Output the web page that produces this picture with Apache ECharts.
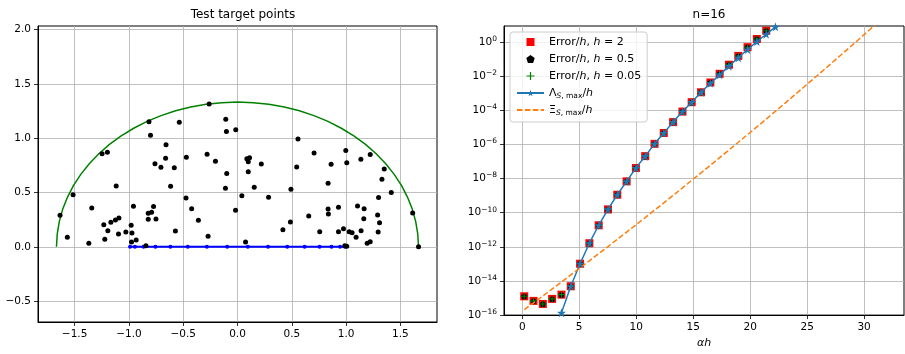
<!DOCTYPE html>
<html>
<head>
<meta charset="utf-8">
<script src="https://cdn.jsdelivr.net/npm/echarts@6/dist/echarts.min.js"></script>
<style>
  html, body { margin: 0; padding: 0; background: #fff; }
  #chart { width: 905px; height: 354px; }
</style>
</head>
<body>
<div id="chart"></div>
<script>
// ---- left panel: test target points ----
var targetX = [-1.247, -1.198, -1.117, -1.514, -1.634, -1.342, -0.958, -1.231, -1.166, -1.124, -1.092,
  -1.194, -0.979, -1.028, -1.096, -0.972, -1.567, -1.222, -0.933, -0.976, -1.369, -0.843,
  -0.815, -0.536, -0.261, -0.108, -0.102, -0.016, -0.801, -0.658, -0.760, -0.705, -0.662,
  -0.582, -0.471, -0.280, -0.203, -0.099, -0.616, -0.111, 0.040, -0.474, -0.422, -0.773,
  -0.791, -0.822, -0.822, -0.751, -0.360, -0.018, -0.572, -0.271, 0.074,
  0.557, 0.086, 0.111, 0.099, 0.219, 0.099, 0.705, 0.545, 0.862, 0.154, 0.492, 0.834,
  0.286, 0.656, 0.834, 0.837, 0.930, 0.487, 0.418, 0.757, 0.930,
  0.997, 1.006, 1.136, 1.222, 1.351, 1.330, 1.416, 1.299, 1.105, 1.166, 1.163, 1.290,
  1.308, 1.613, 0.976, 1.028, 1.055, 1.138, 1.092, 1.295, 1.194, 1.222, 0.988, 1.006, 1.667];
var targetY = [0.858, 0.871, 0.560, 0.480, 0.290, 0.358, 0.373, 0.204, 0.226, 0.247, 0.265,
  0.148, 0.198, 0.136, 0.118, 0.127, 0.088, 0.069, 0.063, 0.044, 0.032, 0.010,
  1.153, 1.147, 1.316, 1.175, 1.061, 1.079, 1.028, 0.941, 0.766, 0.733, 0.816,
  0.729, 0.825, 0.853, 0.788, 0.674, 0.558, 0.539, 0.471, 0.450, 0.351, 0.370,
  0.318, 0.309, 0.253, 0.256, 0.244, 0.336, 0.146, 0.097, 0.044,
  0.994, 0.812, 0.821, 0.784, 0.763, 0.692, 0.865, 0.735, 0.760, 0.548, 0.530, 0.585,
  0.456, 0.284, 0.348, 0.302, 0.364, 0.229, 0.158, 0.139, 0.139,
  0.886, 0.775, 0.806, 0.849, 0.717, 0.622, 0.499, 0.453, 0.376, 0.351, 0.259, 0.293,
  0.222, 0.312, 0.167, 0.139, 0.130, 0.148, 0.088, 0.136, 0.032, 0.047, 0.010, 0.005, 0.000];

// upper half of the green ellipse
var ellipseX = [1.667, 1.660, 1.641, 1.610, 1.566, 1.511, 1.443, 1.365, 1.277, 1.179, 1.071, 0.956,
  0.833, 0.704, 0.570, 0.431, 0.289, 0.145, 0,
  -0.145, -0.289, -0.431, -0.570, -0.704, -0.833, -0.956, -1.071, -1.179, -1.277, -1.365, -1.443,
  -1.511, -1.566, -1.610, -1.641, -1.660, -1.667];
var ellipseY = [0, 0.116, 0.232, 0.345, 0.456, 0.563, 0.667, 0.765, 0.857, 0.943, 1.021, 1.092,
  1.155, 1.208, 1.253, 1.288, 1.313, 1.328, 1.333,
  1.328, 1.313, 1.288, 1.253, 1.208, 1.155, 1.092, 1.021, 0.943, 0.857, 0.765, 0.667,
  0.563, 0.456, 0.345, 0.232, 0.116, 0];

// blue nodes on [-1, 1]
var nodeX = [-0.9894, -0.9446, -0.8656, -0.7554, -0.6179, -0.4580, -0.2816, -0.0950,
  0.0950, 0.2816, 0.4580, 0.6179, 0.7554, 0.8656, 0.9446, 0.9894];
var nodeY = [0, 0, 0, 0, 0, 0, 0, 0, 0, 0, 0, 0, 0, 0, 0, 0];

var leftXTicks = [-1.5, -1, -0.5, 0, 0.5, 1, 1.5];
var leftYTicks = [-0.5, 0, 0.5, 1, 1.5, 2];

// ---- right panel: n=16 ----
var alphaH = [0.175, 0.992, 1.808, 2.625, 3.441, 4.258, 5.075, 5.891, 6.708, 7.524, 8.341, 9.158,
  9.974, 10.79, 11.61, 12.42, 13.24, 14.06, 14.87, 15.69, 16.51, 17.32, 18.14, 18.96, 19.77,
  20.59, 21.41, 22.22, 23.04, 23.86, 24.67, 25.49, 26.31, 27.12, 27.94, 28.76, 29.57, 30.39,
  31.21, 32.02];
var errH2 = [1.26e-15, 6.8e-16, 4.5e-16, 8.9e-16, 1.58e-15, 4.9e-15, 1.02e-13, 1.62e-12, 1.82e-11,
  1.55e-10, 1.12e-9, 6.8e-9, 4.1e-8, 2.04e-7, 1.07e-6, 4.6e-6, 2.0e-5, 8.3e-5, 2.95e-4, 1.12e-3,
  4.2e-3, 1.35e-2, 4.6e-2, 0.151, 0.49, 1.48, 4.5];
var errH05 = [1.26e-15, 6.8e-16, 4.5e-16, 8.9e-16, 1.58e-15, 4.9e-15, 1.02e-13, 1.62e-12, 1.82e-11,
  1.55e-10, 1.12e-9, 6.8e-9, 4.1e-8, 2.04e-7, 1.07e-6, 4.6e-6, 2.0e-5, 8.3e-5, 2.95e-4, 1.12e-3,
  4.2e-3, 1.35e-2, 4.6e-2, 0.151, 0.49, 1.48, 4.5];
var errH005 = [1.26e-15, 6.8e-16, 4.5e-16, 8.9e-16, 1.58e-15, 4.9e-15, 1.02e-13, 1.62e-12, 1.82e-11,
  1.55e-10, 1.12e-9, 6.8e-9, 4.1e-8, 2.04e-7, 1.07e-6, 4.6e-6, 2.0e-5, 8.3e-5, 2.95e-4, 1.12e-3,
  4.2e-3, 1.35e-2, 4.6e-2, 0.151, 0.49, 1.48, 4.5];
var lambdaMax = [null, null, null, null, 1.35e-16, 4.9e-15, 1.02e-13, 1.62e-12, 1.82e-11,
  1.55e-10, 1.12e-9, 6.8e-9, 4.1e-8, 2.04e-7, 1.07e-6, 4.6e-6, 2.0e-5, 8.3e-5, 2.95e-4, 1.12e-3,
  3.8e-3, 1.17e-2, 3.8e-2, 0.117, 0.355, 1.05, 2.8, 7.6];
var xiMax = [2.1e-16, 5.2e-16, 1.32e-15, 3.4e-15, 8.7e-15, 2.24e-14, 5.8e-14, 1.51e-13, 3.98e-13,
  1.02e-12, 2.75e-12, 7.2e-12, 1.95e-11, 5.1e-11, 1.41e-10, 3.7e-10, 1.02e-9, 2.8e-9, 7.8e-9,
  2.14e-8, 5.9e-8, 1.66e-7, 4.7e-7, 1.32e-6, 3.7e-6, 1.05e-5, 3.0e-5, 8.7e-5, 2.5e-4, 7.4e-4,
  2.14e-3, 6.3e-3, 1.86e-2, 5.5e-2, 0.164, 0.49, 1.48, 4.5, 13.7, 41.6];

var rightXTicks = [0, 5, 10, 15, 20, 25, 30];
var rightYExp = [-16, -14, -12, -10, -8, -6, -4, -2, 0];

var FONT = 'DejaVu Sans';
var STAR = 'path://M0,-10 L2.245,-3.09 L9.51,-3.09 L3.63,1.18 L5.88,8.09 L0,3.82 L-5.88,8.09 L-3.63,1.18 L-9.51,-3.09 L-2.245,-3.09 Z';
var PENTAGON = 'path://M0,-10 L9.51,-3.09 L5.88,8.09 L-5.88,8.09 L-9.51,-3.09 Z';
var PLUS = 'path://M-1.5,-10 L1.5,-10 L1.5,-1.5 L10,-1.5 L10,1.5 L1.5,1.5 L1.5,10 L-1.5,10 L-1.5,1.5 L-10,1.5 L-10,-1.5 L-1.5,-1.5 Z';
var SQUARE = 'path://M0,0 L10,0 L10,10 L0,10 Z';

function pairs(xs, ys, logY) {
  var out = [];
  for (var i = 0; i < ys.length; i++) {
    var y = ys[i];
    if (y == null) { out.push([xs[i], null]); continue; }
    out.push([xs[i], logY ? Math.log10(y) : y]);
  }
  return out;
}

function dec(v) {
  return (v < 0 ? '\u2212' : '') + Math.abs(v).toFixed(1);
}

function supText(e) {
  return (e < 0 ? '\u2212' : '') + Math.abs(e);
}

var gridLine = { show: true, lineStyle: { color: '#b0b0b0', width: 0.8 } };
var axisLine = { show: true, onZero: false, lineStyle: { color: '#000', width: 1 } };
var tick = function (vals) {
  return { show: true, length: 4, inside: false, customValues: vals, lineStyle: { color: '#000', width: 0.8 } };
};

var chart = echarts.init(document.getElementById('chart'), null, { renderer: 'canvas' });
chart.setOption({
  animation: false,
  backgroundColor: '#fff',
  textStyle: { fontFamily: FONT },
  title: [
    { text: 'Test target points', left: 238, top: 4, textAlign: 'center',
      textStyle: { fontFamily: FONT, fontSize: 12, fontWeight: 'normal', color: '#000' } },
    { text: 'n=16', left: 704, top: 4, textAlign: 'center',
      textStyle: { fontFamily: FONT, fontSize: 12, fontWeight: 'normal', color: '#000' } }
  ],
  grid: [
    { left: 38, top: 26, width: 399, height: 296, show: true, borderColor: '#000', borderWidth: 1, backgroundColor: 'transparent' },
    { left: 504, top: 26, width: 400, height: 296, show: true, borderColor: '#000', borderWidth: 1, backgroundColor: 'transparent' }
  ],
  legend: {
    orient: 'vertical',
    left: 510,
    top: 32,
    padding: [3, 6, 5, 6],
    itemWidth: 27,
    itemHeight: 8,
    itemGap: 3,
    backgroundColor: 'rgba(255,255,255,0.8)',
    borderColor: '#cccccc',
    borderWidth: 1,
    borderRadius: 3,
    data: [
      { name: 'e2', icon: SQUARE },
      { name: 'e05' },
      { name: 'e005' },
      { name: 'lam' },
      { name: 'xi', itemStyle: { opacity: 0 } }
    ],
    formatter: function (name) {
      if (name === 'e2') return '{n|Error/}{i|h}{n|, }{i|h}{n| = 2}';
      if (name === 'e05') return '{n|Error/}{i|h}{n|, }{i|h}{n| = 0.5}';
      if (name === 'e005') return '{n|Error/}{i|h}{n|, }{i|h}{n| = 0.05}';
      if (name === 'lam') return '{n|\u039b}{si|S}{sn|, max}{n|/}{i|h}';
      return '{n|\u039e}{si|S}{sn|, max}{n|/}{i|h}';
    },
    textStyle: {
      fontFamily: FONT, fontSize: 11, color: '#000', lineHeight: 14,
      rich: {
        n: { fontFamily: FONT, fontSize: 11, lineHeight: 14 },
        i: { fontFamily: FONT, fontSize: 11, fontStyle: 'italic', lineHeight: 14 },
        si: { fontFamily: FONT, fontSize: 7.5, fontStyle: 'italic', lineHeight: 8, verticalAlign: 'bottom' },
        sn: { fontFamily: FONT, fontSize: 7.5, lineHeight: 8, verticalAlign: 'bottom' }
      }
    }
  },
  xAxis: [
    { gridIndex: 0, type: 'value', min: -1.837, max: 1.837,
      axisLine: axisLine, axisTick: tick(leftXTicks), splitLine: gridLine,
      axisLabel: { customValues: leftXTicks, formatter: dec, fontFamily: FONT, fontSize: 10.5, color: '#000', margin: 7 } },
    { gridIndex: 1, type: 'value', min: -1.6, max: 33.5,
      name: 'αh', nameLocation: 'middle', nameGap: 20,
      nameTextStyle: { fontFamily: FONT, fontSize: 11, fontStyle: 'italic', color: '#000' },
      axisLine: axisLine, axisTick: tick(rightXTicks), splitLine: gridLine,
      axisLabel: { customValues: rightXTicks, fontFamily: FONT, fontSize: 10.5, color: '#000', margin: 7 } }
  ],
  yAxis: [
    { gridIndex: 0, type: 'value', min: -0.693, max: 2.034,
      axisLine: axisLine, axisTick: tick(leftYTicks), splitLine: gridLine,
      axisLabel: { customValues: leftYTicks, formatter: dec, fontFamily: FONT, fontSize: 10.5, color: '#000', margin: 7 } },
    { gridIndex: 1, type: 'value', min: -16, max: 0.93,
      axisLine: axisLine, axisTick: tick(rightYExp), splitLine: gridLine,
      axisLabel: {
        customValues: rightYExp, color: '#000', margin: 7,
        formatter: function (v) { return '{b|10}{s|' + supText(Math.round(v)) + '}'; },
        rich: {
          b: { fontFamily: FONT, fontSize: 10.5, lineHeight: 14, color: '#000' },
          s: { fontFamily: FONT, fontSize: 7.5, lineHeight: 6, verticalAlign: 'top', color: '#000' }
        }
      } }
  ],
  series: [
    { name: 'nodes', type: 'line', xAxisIndex: 0, yAxisIndex: 0, data: pairs(nodeX, nodeY, false),
      symbol: 'circle', symbolSize: 4, itemStyle: { color: '#0000ff' },
      lineStyle: { color: '#0000ff', width: 2 }, z: 3 },
    { name: 'ellipse', type: 'line', xAxisIndex: 0, yAxisIndex: 0, data: pairs(ellipseX, ellipseY, false),
      showSymbol: false, symbol: 'none', lineStyle: { color: '#008000', width: 1.5 }, z: 3 },
    { name: 'targets', type: 'scatter', xAxisIndex: 0, yAxisIndex: 0, data: pairs(targetX, targetY, false),
      symbol: 'circle', symbolSize: 5, itemStyle: { color: '#000', opacity: 1 }, z: 4 },

    { name: 'e2', type: 'scatter', xAxisIndex: 1, yAxisIndex: 1, data: pairs(alphaH, errH2, true),
      symbol: 'rect', symbolSize: 8, itemStyle: { color: '#ff0000', opacity: 1 }, z: 3 },
    { name: 'e05', type: 'scatter', xAxisIndex: 1, yAxisIndex: 1, data: pairs(alphaH, errH05, true),
      symbol: PENTAGON, symbolSize: 6, itemStyle: { color: '#000', opacity: 1 }, z: 3 },
    { name: 'e005', type: 'scatter', xAxisIndex: 1, yAxisIndex: 1, data: pairs(alphaH, errH005, true),
      symbol: PLUS, symbolSize: 7, itemStyle: { color: '#008000', opacity: 1 }, z: 3 },
    { name: 'lam', type: 'line', xAxisIndex: 1, yAxisIndex: 1, data: pairs(alphaH, lambdaMax, true),
      symbol: STAR, symbolSize: 9, showAllSymbol: true, itemStyle: { color: '#1f77b4' },
      lineStyle: { color: '#1f77b4', width: 1.5 }, clip: true, z: 4 },
    { name: 'xi', type: 'line', xAxisIndex: 1, yAxisIndex: 1, data: pairs(alphaH, xiMax, true),
      showSymbol: false, symbol: 'none', itemStyle: { color: '#ff7f0e' },
      lineStyle: { color: '#ff7f0e', width: 1.5, type: [5.5, 2.4] }, clip: true, z: 4 }
  ]
});
</script>
</body>
</html>
